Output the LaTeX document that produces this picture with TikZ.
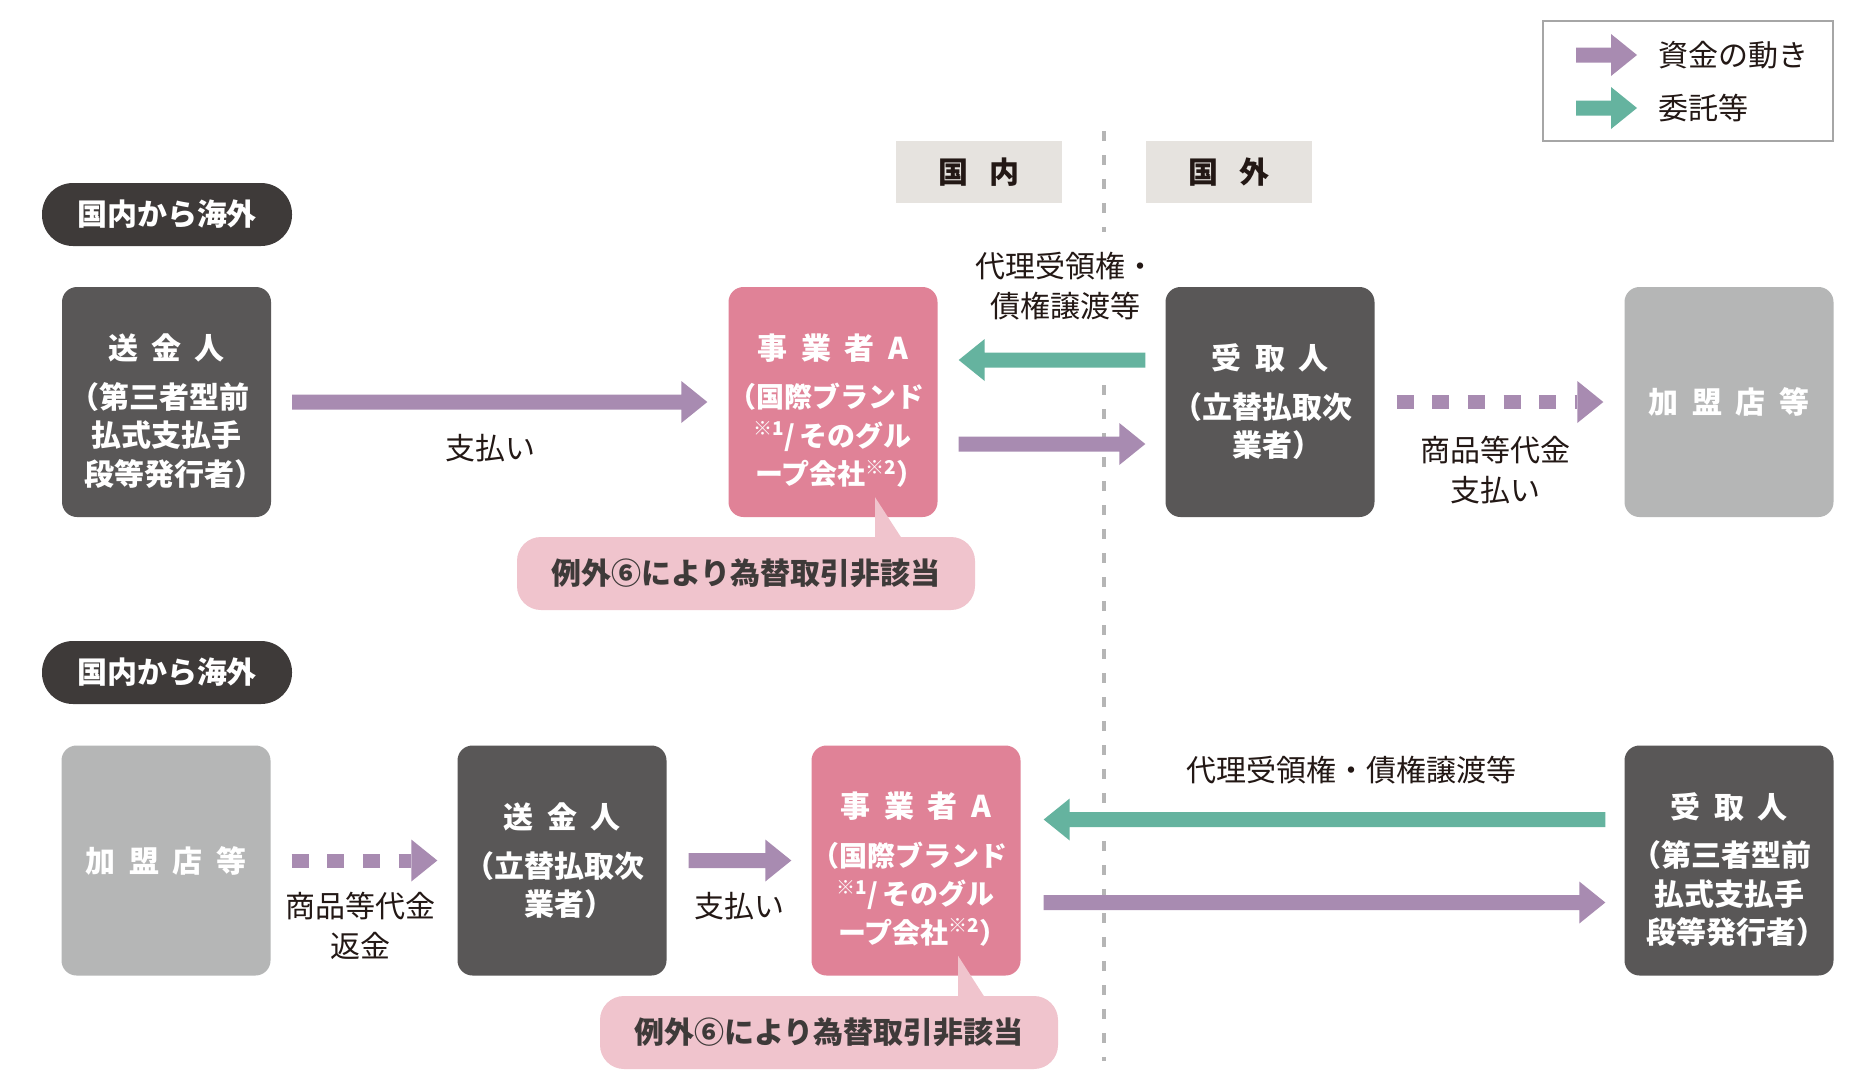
\documentclass[tikz,border=0pt]{standalone}
\usepackage{fontspec}
\setmainfont{Noto Sans CJK JP}
\usetikzlibrary{calc}
\definecolor{dboxc}{HTML}{595757}
\definecolor{pillc}{HTML}{3E3A39}
\definecolor{gboxc}{HTML}{B5B6B6}
\definecolor{pinkc}{HTML}{E08297}
\definecolor{lpinkc}{HTML}{F0C4CD}
\definecolor{purp}{HTML}{A88BB1}
\definecolor{grn}{HTML}{65B39F}
\definecolor{hdrc}{HTML}{E6E3DF}
\definecolor{dashgray}{HTML}{B5B5B5}
\definecolor{txtc}{HTML}{231815}
\newcommand\tsp{\hspace{.45em}}
\newcommand\obr[1]{\makebox[.5em][r]{#1}}
\newcommand\cbr[1]{\makebox[.5em][l]{#1}}
\newcommand\supx[1]{\raisebox{.38em}{\fontsize{19}{19}\selectfont #1}}
\newcommand\farrow[3]{%
  \coordinate (fa-s) at (#2); \coordinate (fa-e) at (#3);
  \coordinate (fa-b) at ($(fa-e)!26pt!(fa-s)$);
  \fill[#1] ($(fa-s)+(0,7.5)$) -- ($(fa-b)+(0,7.5)$) -- ($(fa-b)+(0,21)$) -- (fa-e)
    -- ($(fa-b)+(0,-21)$) -- ($(fa-b)+(0,-7.5)$) -- ($(fa-s)+(0,-7.5)$) -- cycle;}
\newcommand\darrow[3]{%
  \coordinate (fa-s) at (#2); \coordinate (fa-e) at (#3);
  \coordinate (fa-b) at ($(fa-e)!26pt!(fa-s)$);
  \draw[#1, line width=14pt, dash pattern=on 17pt off 18.6pt] (fa-s) -- (fa-b);
  \fill[#1] ($(fa-b)+(0,21)$) -- (fa-e) -- ($(fa-b)+(0,-21)$) -- cycle;}
\begin{document}
\begin{tikzpicture}[x=1pt,y=-1pt,
  basebox/.style={rounded corners=15pt, minimum width=209pt, minimum height=230pt, inner sep=0pt, align=center, text=white},
  dbox/.style={basebox, fill=dboxc, font=\bfseries\fontsize{30}{38}\selectfont},
  gbox/.style={basebox, fill=gboxc, font=\bfseries\fontsize{30}{38}\selectfont},
  pbox/.style={basebox, fill=pinkc},
  btxt/.style={inner sep=0pt, align=center, text=white, font=\bfseries\fontsize{30}{38.5}\selectfont},
  ptxt/.style={inner sep=0pt, align=center, text=white, font=\bfseries\fontsize{28}{38.5}\selectfont},
  pill/.style={rounded corners=31pt, minimum width=250pt, minimum height=63pt, inner sep=0pt, fill=pillc, text=white, font=\bfseries\fontsize{30}{36}\selectfont},
  hdr/.style={minimum width=166pt, minimum height=62pt, inner sep=0pt, fill=hdrc, text=txtc, font=\bfseries\fontsize{30}{36}\selectfont},
  callout/.style={rounded corners=24pt, minimum width=458pt, minimum height=73pt, inner sep=0pt, fill=lpinkc, text=pillc, font=\bfseries\fontsize{30}{36}\selectfont},
  lab/.style={align=center, inner sep=2pt, text=txtc, font=\fontsize{30}{40}\selectfont},
  dline/.style={draw=dashgray, line width=4pt, dash pattern=on 10pt off 14pt}]
\fill[white] (0,0) rectangle (1875,1090);
\useasboundingbox (0,0) rectangle (1875,1090);
% dashed border between domestic and overseas
\draw[dline] (1104,131) -- (1104,232);
\draw[dline] (1104,385) -- (1104,1061);
% legend
\node[draw=gray!70, line width=1.5pt, minimum width=290pt, minimum height=120pt, inner sep=0pt] (lg) at (1688,81) {};
\coordinate (la1) at (1576,55); \coordinate (la2) at (1637,55);
\coordinate (lb1) at (1576,108); \coordinate (lb2) at (1637,108);
\farrow{purp}{la1}{la2}
\farrow{grn}{lb1}{lb2}
\node[lab, anchor=west] (lt1) at (1656,55) {資金の動き};
\node[lab, anchor=west] (lt2) at (1656,108) {委託等};
% headers
\node[hdr] (h1) at (979,172) {国\hspace{.7em}内};
\node[hdr] (h2) at (1229,172) {国\hspace{.7em}外};
% section pills
\node[pill] (p1) at (167,214.5) {国内から海外};
\node[pill] (p2) at (167,672.5) {国内から海外};
% top row
\node[dbox] (s1) at (166.5,402) {};
\node[btxt] (s1t) at ($(s1)+(0,9)$) {送\tsp 金\tsp 人\\[10pt]\obr{（}第三者型前\\払式支払手\\段等発行者\cbr{）}};
\node[pbox] (a1) at (833,402) {};
\node[ptxt] (a1t) at ($(a1)+(0,8.5)$) {{\fontsize{30}{38}\selectfont 事\tsp 業\tsp 者\tsp A}\\[10pt]\obr{（}国際ブランド\\\supx{※1}/\,そのグル\\ープ会社\supx{※2}\cbr{）}};
\node[dbox] (r1) at (1270,402) {受\tsp 取\tsp 人\\[11pt]\obr{（}立替払取次\\業者\cbr{）}};
\node[gbox] (m1) at (1729,402) {加\tsp 盟\tsp 店\tsp 等};
\node[callout] (c1) at (746,573.5) {例外⑥により為替取引非該当};
\fill[lpinkc] ($(a1.south)+(42,-20)$) -- ($(c1.north)+(129,2)$) -- ($(c1.north)+(156,2)$) -- cycle;
% bottom row
\node[gbox] (m2) at (166,860.5) {加\tsp 盟\tsp 店\tsp 等};
\node[dbox] (s2) at (562,860.5) {送\tsp 金\tsp 人\\[11pt]\obr{（}立替払取次\\業者\cbr{）}};
\node[pbox] (a2) at (916,860.5) {};
\node[ptxt] (a2t) at ($(a2)+(0,8.5)$) {{\fontsize{30}{38}\selectfont 事\tsp 業\tsp 者\tsp A}\\[10pt]\obr{（}国際ブランド\\\supx{※1}/\,そのグル\\ープ会社\supx{※2}\cbr{）}};
\node[dbox] (r2) at (1729,860.5) {};
\node[btxt] (r2t) at ($(r2)+(0,9)$) {受\tsp 取\tsp 人\\[10pt]\obr{（}第三者型前\\払式支払手\\段等発行者\cbr{）}};
\node[callout] (c2) at (829,1032.5) {例外⑥により為替取引非該当};
\fill[lpinkc] ($(a2.south)+(42,-20)$) -- ($(c2.north)+(129,2)$) -- ($(c2.north)+(156,2)$) -- cycle;
% top arrows
\farrow{purp}{$(s1.east)+(21,0)$}{$(a1.west)+(-21,0)$}
\farrow{grn}{$(r1.west)+(-20,-42)$}{$(a1.east)+(21,-42)$}
\farrow{purp}{$(a1.east)+(21,42)$}{$(r1.west)+(-20,42)$}
\darrow{purp}{$(r1.east)+(22,0)$}{$(m1.west)+(-21,0)$}
% bottom arrows
\darrow{purp}{$(m2.east)+(21,0)$}{$(s2.west)+(-20,0)$}
\farrow{purp}{$(s2.east)+(22,0)$}{$(a2.west)+(-20,0)$}
\farrow{grn}{$(r2.west)+(-19,-41)$}{$(a2.east)+(23,-41)$}
\farrow{purp}{$(a2.east)+(23,42)$}{$(r2.west)+(-19,42)$}
% labels
\node[lab] (l1) at (490,448) {支払い};
\node[lab] (l2) at (1065,286) {代理受領権・\\債権譲渡等};
\node[lab] (l3) at (1495,470) {商品等代金\\支払い};
\node[lab] (l4) at (360,926) {商品等代金\\返金};
\node[lab] (l5) at (739,906) {支払い};
\node[lab] (l6) at (1351,770) {代理受領権・債権譲渡等};
\end{tikzpicture}
\end{document}
